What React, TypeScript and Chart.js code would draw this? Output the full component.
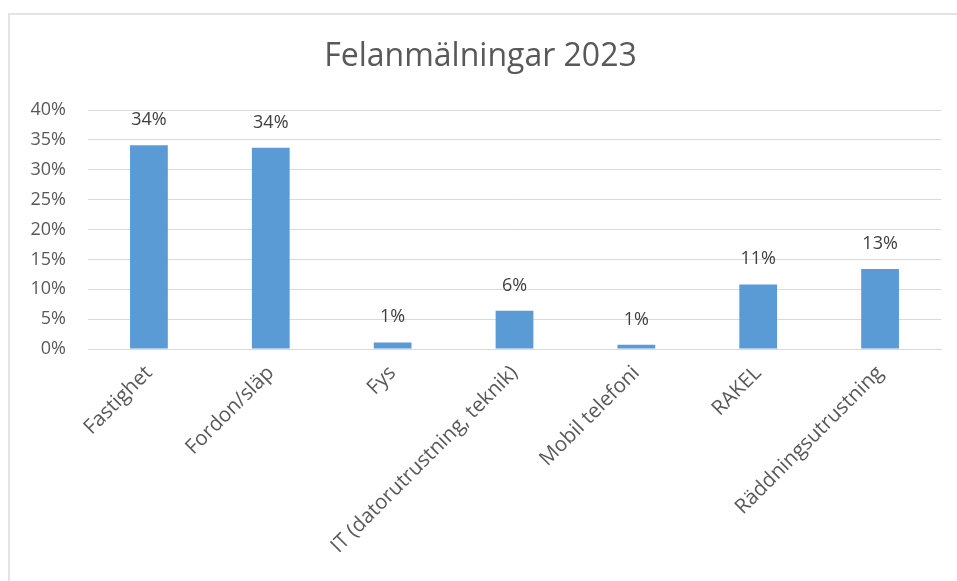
import React, { useEffect, useRef } from "react";
import { Chart, registerables } from "chart.js";

Chart.register(...registerables);

const title = "Felanmälningar 2023";
const categories = [
  "Fastighet",
  "Fordon/släp",
  "Fys",
  "IT (datorutrustning, teknik)",
  "Mobil telefoni",
  "RAKEL",
  "Räddningsutrustning",
];
const values = [34.1, 33.7, 1.1, 6.4, 0.7, 10.8, 13.4];
const yMax = 40;
const yStep = 5;

const FONT = "'Open Sans', 'Noto Sans', sans-serif";
const TEXT = "#595959";

const dataLabels = {
  id: "dataLabels",
  afterDatasetsDraw(chart: any) {
    const ctx = chart.ctx;
    const meta = chart.getDatasetMeta(0);
    ctx.save();
    ctx.font = `18px ${FONT}`;
    ctx.fillStyle = "#404040";
    ctx.textAlign = "center";
    ctx.textBaseline = "alphabetic";
    meta.data.forEach((bar: any, i: number) => {
      const v = chart.data.datasets[0].data[i] as number;
      ctx.fillText(`${Math.round(v)}%`, bar.x, bar.y - 20);
    });
    ctx.restore();
  },
};

export default function App() {
  const ref = useRef<HTMLCanvasElement | null>(null);
  useEffect(() => {
    if (!ref.current) return;
    const chart = new Chart(ref.current, {
      type: "bar",
      data: {
        labels: categories,
        datasets: [
          {
            data: values,
            backgroundColor: "#5B9BD5",
            borderWidth: 0,
            categoryPercentage: 1,
            barPercentage: 0.31,
          },
        ],
      },
      options: {
        responsive: false,
        animation: false,
        layout: { padding: { left: 20, right: 16, top: 0, bottom: 0 } },
        plugins: {
          legend: { display: false },
          tooltip: { enabled: false },
          title: {
            display: true,
            text: title,
            color: TEXT,
            font: { family: FONT, size: 32, weight: "normal", lineHeight: 1.2 },
            padding: { top: 38, bottom: 33.6 },
          },
        },
        scales: {
          y: {
            min: 0,
            max: yMax,
            ticks: {
              stepSize: yStep,
              padding: 22,
              color: TEXT,
              font: { family: FONT, size: 18 },
              callback: (v: any) => `${v}%`,
            },
            grid: { color: "#D9D9D9", drawTicks: false },
            border: { display: false },
            afterFit: (s: any) => {
              s.width = 68;
            },
          },
          x: {
            ticks: {
              minRotation: 45,
              maxRotation: 45,
              color: TEXT,
              font: { family: FONT, size: 20.5 },
              autoSkip: false,
              padding: 4,
            },
            grid: { display: false },
            border: { color: "#D9D9D9" },
            afterFit: (s: any) => {
              s.height = 232;
            },
          },
        },
      },
      plugins: [dataLabels],
    });
    return () => chart.destroy();
  }, []);
  return (
    <div style={{ position: "absolute", left: 0, top: 0, width: 957, height: 581, background: "#fff" }}>
      <div
        style={{
          position: "absolute",
          left: 8,
          top: 13,
          right: -2,
          bottom: -2,
          borderTop: "2px solid #E3E3E3",
          borderLeft: "2px solid #E3E3E3",
        }}
      />
      <canvas ref={ref} width={957} height={581} style={{ position: "absolute", left: 0, top: 0 }} />
    </div>
  );
}
